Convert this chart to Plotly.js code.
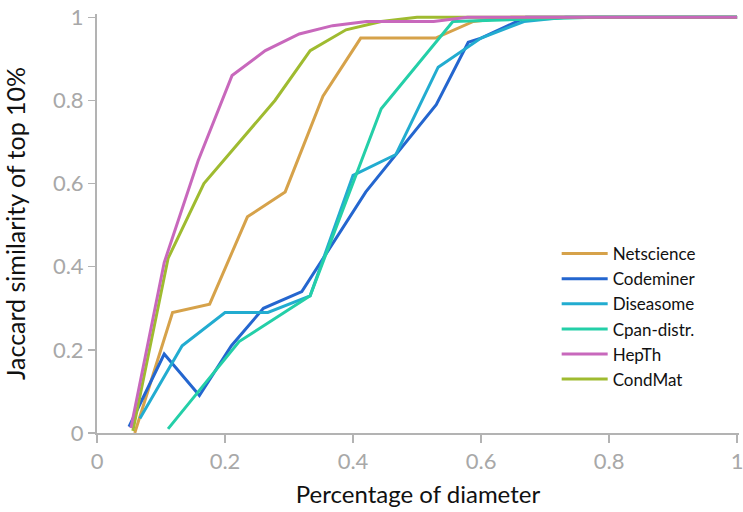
<!DOCTYPE html>
<html>
<head>
<meta charset="utf-8">
<script src="https://cdn.plot.ly/plotly-3.0.1.min.js"></script>
<style>html,body{margin:0;padding:0;background:#fff;}#chart{width:743px;height:512px;}</style>
</head>
<body>
<div id="chart"></div>
<script>
const seriesNames = ["Netscience", "Codeminer", "Diseasome", "Cpan-distr.", "HepTh", "CondMat"];

const netscienceX = [0.059, 0.118, 0.176, 0.235, 0.294, 0.353, 0.412, 0.471, 0.529, 0.588, 0.647, 0.706, 0.765, 0.824, 0.882, 0.941, 1.0];
const netscienceY = [0.0, 0.29, 0.31, 0.52, 0.58, 0.81, 0.95, 0.95, 0.95, 0.99, 1.0, 1.0, 1.0, 1.0, 1.0, 1.0, 1.0];

const codeminerX = [0.05, 0.105, 0.16, 0.21, 0.26, 0.32, 0.42, 0.53, 0.58, 0.60, 0.67, 0.74, 0.79, 0.84, 0.89, 0.95, 1.0];
const codeminerY = [0.015, 0.19, 0.09, 0.21, 0.30, 0.34, 0.58, 0.79, 0.94, 0.95, 1.0, 1.0, 1.0, 1.0, 1.0, 1.0, 1.0];

const diseasomeX = [0.067, 0.133, 0.2, 0.267, 0.333, 0.4, 0.467, 0.533, 0.6, 0.667, 0.733, 0.8, 0.867, 0.933, 1.0];
const diseasomeY = [0.035, 0.21, 0.29, 0.29, 0.33, 0.62, 0.67, 0.88, 0.95, 0.99, 1.0, 1.0, 1.0, 1.0, 1.0];

const cpanX = [0.111, 0.222, 0.333, 0.444, 0.556, 0.667, 0.778, 0.889, 1.0];
const cpanY = [0.01, 0.22, 0.33, 0.78, 0.99, 0.995, 1.0, 1.0, 1.0];

const hepthX = [0.053, 0.105, 0.158, 0.211, 0.263, 0.316, 0.368, 0.421, 0.474, 0.526, 0.579, 0.684, 0.789, 0.895, 1.0];
const hepthY = [0.012, 0.41, 0.655, 0.86, 0.92, 0.96, 0.98, 0.99, 0.99, 0.99, 1.0, 1.0, 1.0, 1.0, 1.0];

const condmatX = [0.056, 0.111, 0.167, 0.278, 0.333, 0.389, 0.444, 0.5, 0.611, 0.722, 0.833, 0.944, 1.0];
const condmatY = [0.005, 0.42, 0.60, 0.80, 0.92, 0.97, 0.99, 1.0, 1.0, 1.0, 1.0, 1.0, 1.0];

const tickVals = [0, 0.2, 0.4, 0.6, 0.8, 1];
const tickText = ["0", "0.2", "0.4", "0.6", "0.8", "1"];

const colors = ["#d6a24a", "#2466cf", "#22acd0", "#24cfa8", "#c868bc", "#9fbb30"];

const xs = [netscienceX, codeminerX, diseasomeX, cpanX, hepthX, condmatX];
const ys = [netscienceY, codeminerY, diseasomeY, cpanY, hepthY, condmatY];
// drawing order: CondMat below HepTh
const drawOrder = [0, 1, 2, 3, 5, 4];

const traces = drawOrder.map(i => ({
  type: "scatter",
  mode: "lines",
  name: seriesNames[i],
  x: xs[i],
  y: ys[i],
  line: {color: colors[i], width: 3},
  legendrank: i + 1
}));

const font = "Lato, 'Open Sans', sans-serif";

const layout = {
  width: 743,
  height: 512,
  margin: {l: 97, r: 4, t: 14, b: 79},
  paper_bgcolor: "#fff",
  plot_bgcolor: "#fff",
  showlegend: true,
  legend: {
    x: 0.716, y: 0.47, xanchor: "left", yanchor: "top",
    font: {family: font, size: 17, color: "#111"},
    bgcolor: "rgba(0,0,0,0)",
    itemwidth: 46,
    tracegroupgap: 0
  },
  xaxis: {
    range: [0, 1.003],
    tickvals: tickVals, ticktext: tickText,
    ticks: "outside", ticklen: 8, tickwidth: 1.5, tickcolor: "#b3b3b3",
    showline: true, linecolor: "#b3b3b3", linewidth: 2,
    showgrid: false, zeroline: false,
    ticklabeloverflow: "allow",
    tickfont: {family: font, size: 22, color: "#a8a8a8"},
    title: {text: "Percentage of diameter", font: {family: font, size: 24, color: "#111"}, standoff: 13}
  },
  yaxis: {
    range: [0, 1.008],
    tickvals: tickVals, ticktext: tickText,
    ticks: "outside", ticklen: 7, tickwidth: 1.5, tickcolor: "#b3b3b3",
    showline: true, linecolor: "#b3b3b3", linewidth: 2,
    showgrid: false, zeroline: false,
    ticklabeloverflow: "allow",
    tickfont: {family: font, size: 22, color: "#a8a8a8"},
    title: {text: "Jaccard similarity of top 10%", font: {family: font, size: 25, color: "#111"}, standoff: 20}
  }
};

Plotly.newPlot("chart", traces, layout, {displayModeBar: false, staticPlot: true});
</script>
</body>
</html>
